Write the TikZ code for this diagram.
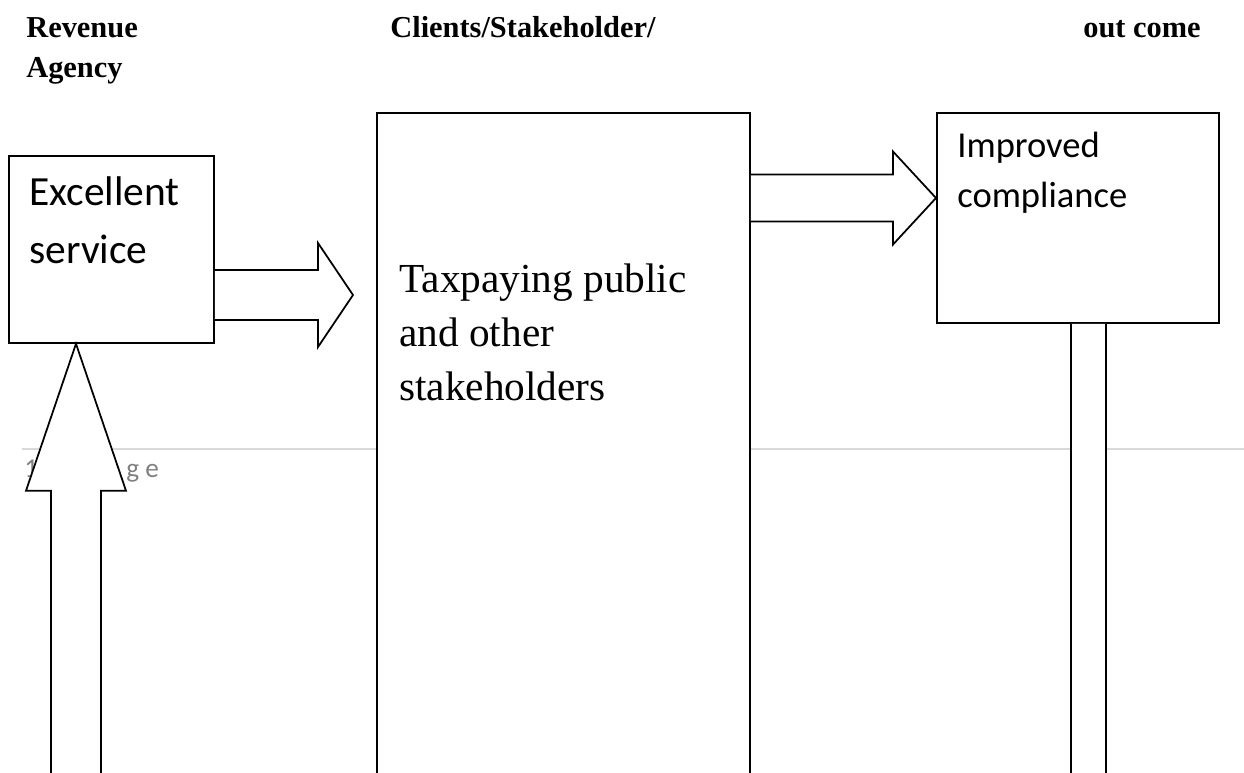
\documentclass[tikz,border=0pt]{standalone}
\usepackage{fontspec}
\setmainfont{Liberation Serif}
\newfontfamily\calibri{Carlito}
\usepackage{tikz}
\usetikzlibrary{calc}

\begin{document}
\begin{tikzpicture}[x=0.02cm, y=-0.02cm]
    \tikzstyle{heading} = [
      anchor=base west,
      align=left,
      inner sep=0,
      font=\fontsize{17.3}{22.7}\selectfont\bfseries,
    ]
    \tikzstyle{box} = [
      anchor=north west,
      draw=black,
      fill=white,
      line width=1pt,
      inner sep=0,
    ]
    \tikzstyle{boxtext} = [
      anchor=base west,
      align=left,
      inner sep=0,
    ]
    \tikzstyle{blockarrow} = [
      draw=black,
      fill=white,
      line width=1pt,
      line join=miter,
    ]
    \tikzstyle{pageline} = [
      draw=black!15,
      line width=0.8pt,
    ]
    \tikzstyle{pagenum} = [
      anchor=base west,
      inner sep=0,
      text=black!50,
      font=\calibri\fontsize{15.5}{18}\selectfont,
    ]

    \newcommand{\unitpx}[0]{0.02cm}

    % horizontal block arrow: tail, tip, half shaft, half head, head length
    \newcommand{\rightblock}[5]{
      \draw[blockarrow]
        ($(#1)+(0,-#3)$) -- ($(#2)+(-#5,-#3)$) -- ($(#2)+(-#5,-#4)$) -- (#2)
        -- ($(#2)+(-#5,#4)$) -- ($(#2)+(-#5,#3)$) -- ($(#1)+(0,#3)$);
    }
    % vertical block arrow pointing up
    \newcommand{\upblock}[5]{
      \draw[blockarrow]
        ($(#1)+(-#3,0)$) -- ($(#2)+(-#3,#5)$) -- ($(#2)+(-#4,#5)$) -- (#2)
        -- ($(#2)+(#4,#5)$) -- ($(#2)+(#3,#5)$) -- ($(#1)+(#3,0)$);
    }

    \useasboundingbox (0,0) rectangle (1244,772);
    \clip (0,0) rectangle (1244,772);

    % column headings (base = last line)
    {
      \node[heading] (agencyTitle)  at (26,77)   {Revenue\\Agency};
      \node[heading] (clientsTitle) at (390,37)  {Clients/Stakeholder/};
      \node[heading] (outcomeTitle) at (1083,37) {out come};
    }

    % page footer line
    {
      \draw[pageline] (22,449) -- (1244,449);
      \node[pagenum] (pageNo)   at (24,477)  {1};
      \node[pagenum] (pageWord) at (126,477) {g e};
    }

    % boxes
    {
      \node[box, minimum width=205*\unitpx, minimum height=187*\unitpx] (service) at (8,155) {};
      \node[box, minimum width=373*\unitpx, minimum height=720*\unitpx] (public) at (376,112) {};
      \node[box, minimum width=282*\unitpx, minimum height=210*\unitpx] (compliance) at (936,112) {};
    }

    % box texts
    {
      \node[boxtext, font=\calibri\fontsize{23.6}{32.9}\selectfont] (serviceText)
        at ([xshift=21*\unitpx, yshift=-108*\unitpx] service.north west) {Excellent\\service};
      \node[boxtext, font=\fontsize{23.5}{30.6}\selectfont] (publicText)
        at ([xshift=23*\unitpx, yshift=-288*\unitpx] public.north west) {Taxpaying public\\and other\\stakeholders};
      \node[boxtext, font=\calibri\fontsize{20.8}{28.3}\selectfont] (complianceText)
        at ([xshift=21*\unitpx, yshift=-95*\unitpx] compliance.north west) {Improved\\compliance};
    }

    % service -> public
    {
      \coordinate (serviceOut) at ([yshift=-140*\unitpx] service.north east);
      \coordinate (publicIn) at ($(serviceOut -| public.west)+(-23,0)$);
      \rightblock{serviceOut}{publicIn}{25}{52}{35}
    }

    % public -> compliance
    {
      \coordinate (publicOut) at ([yshift=-86*\unitpx] public.north east);
      \coordinate (complianceIn) at (publicOut -| compliance.west);
      \rightblock{publicOut}{complianceIn}{23.5}{46.5}{43}
    }

    % feedback into service
    {
      \coordinate (serviceIn) at ([xshift=68*\unitpx] service.south west);
      \coordinate (feedbackTail) at ($(serviceIn)+(0,500)$);
      \upblock{feedbackTail}{serviceIn}{25}{50}{147}
    }

    % compliance going down
    {
      \coordinate (complianceOut) at ([xshift=152.5*\unitpx] compliance.south west);
      \draw[blockarrow]
        ($(complianceOut)+(-17.5,0)$) -- ++(0,500) -- ++(35,0) -- ($(complianceOut)+(17.5,0)$);
    }
\end{tikzpicture}
\end{document}
